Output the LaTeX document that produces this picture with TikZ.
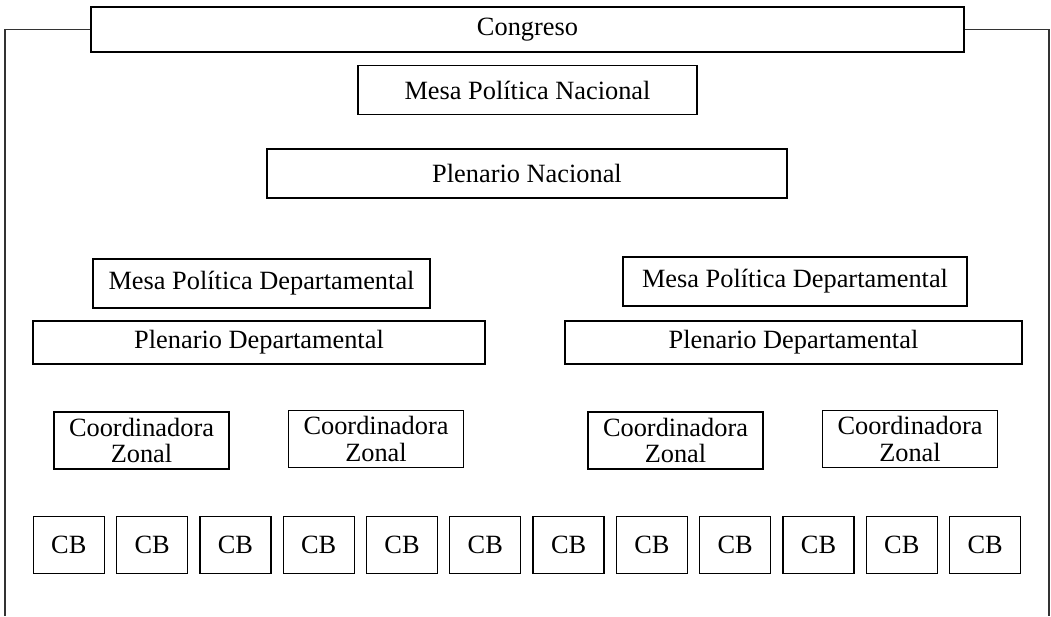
\documentclass[tikz,border=0pt]{standalone}
\usepackage{fontspec}
\setmainfont{Liberation Serif}

\begin{document}
\begin{tikzpicture}[
  box/.style={draw, line width=0.7pt, inner sep=0pt, align=center,
              font=\fontsize{15}{15}\selectfont},
  cbbox/.style={box, minimum width=1.42cm, minimum height=1.14cm},
  zonal/.style={box, minimum width=3.5cm, minimum height=1.14cm},
  frame/.style={line width=0.9pt, color=black!80}
]
  \useasboundingbox (0,0) rectangle (21.02,12.32);
  \node[box, minimum width=17.46cm, minimum height=0.9cm] (congreso) at (10.55,11.73) {Congreso};
  \node[box, minimum width=6.78cm, minimum height=0.97cm] (mesanac) at (10.55,10.52) {Mesa Política Nacional};
  \node[box, minimum width=10.4cm, minimum height=0.98cm] (plenac) at (10.54,8.85) {Plenario Nacional};

  \node[box, minimum width=6.74cm, minimum height=0.98cm] (mesadepL) at (5.23,6.65) {Mesa Política Departamental};
  \node[box, minimum width=6.88cm, minimum height=0.98cm] (mesadepR) at (15.9,6.69) {Mesa Política Departamental};
  \node[box, minimum width=9.04cm, minimum height=0.86cm] (pledepL) at (5.18,5.47) {Plenario Departamental};
  \node[box, minimum width=9.14cm, minimum height=0.86cm] (pledepR) at (15.87,5.47) {Plenario Departamental};

  \node[zonal] (zonA) at (2.83,3.51) {Coordinadora\\Zonal};
  \node[zonal] (zonB) at (7.52,3.54) {Coordinadora\\Zonal};
  \node[zonal] (zonC) at (13.51,3.51) {Coordinadora\\Zonal};
  \node[zonal] (zonD) at (18.2,3.54) {Coordinadora\\Zonal};

  \foreach \i in {1,...,12}
    \node[cbbox] (cb\i) at ({1.376+(\i-1)*1.666},1.42) {CB};

  % open frame hanging from the congress box
  \coordinate (frameL) at (0.1,0);
  \coordinate (frameR) at (20.98,0);
  \draw[frame] (congreso.west) -| (frameL);
  \draw[frame] (congreso.east) -| (frameR);
\end{tikzpicture}
\end{document}
